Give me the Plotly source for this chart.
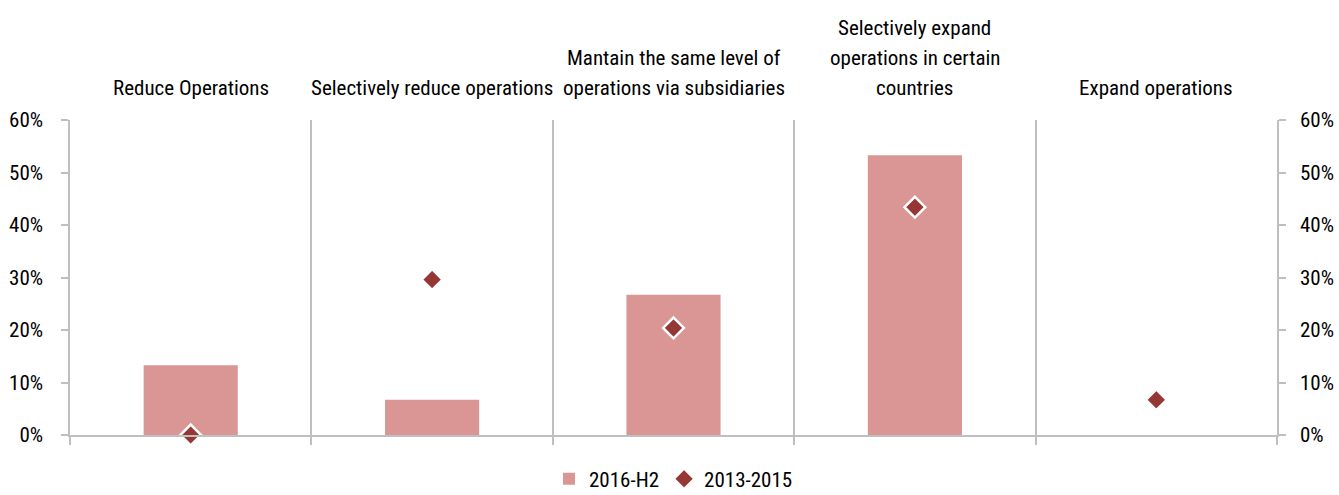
import plotly.graph_objects as go

categories = ["Reduce Operations", "Selectively reduce operations",
              "Mantain the same level of<br>operations via subsidiaries",
              "Selectively expand<br>operations in certain<br>countries",
              "Expand operations"]
cat_keys = ["c1", "c2", "c3", "c4", "c5"]
bars_2016_h2 = [0.133, 0.067, 0.267, 0.533, 0.0]
markers_2013_2015 = [0.0, 0.296, 0.204, 0.434, 0.067]
y_ticks = [0, 0.1, 0.2, 0.3, 0.4, 0.5, 0.6]

FONT = "Liberation Sans Narrow, Roboto Condensed, DejaVu Sans Condensed, Arial Narrow, sans-serif"
GRAY = "#BFBFBF"
TXT = "#000000"

fig = go.Figure()
fig.add_trace(go.Bar(x=cat_keys, y=bars_2016_h2, name="2016-H2",
                     marker=dict(color="#D99694", line=dict(width=0))))
fig.add_trace(go.Scatter(x=cat_keys, y=markers_2013_2015, name="2013-2015", mode="markers",
                         cliponaxis=False,
                         marker=dict(symbol="diamond", color="#953735", size=16,
                                     line=dict(color="white", width=2.5))))
fig.add_trace(go.Scatter(x=cat_keys, y=markers_2013_2015, yaxis="y2", mode="markers",
                         marker=dict(opacity=0), showlegend=False, hoverinfo="skip"))

for k, lab in zip(cat_keys, categories):
    lines = lab.split("<br>")
    for i, line in enumerate(reversed(lines)):
        fig.add_annotation(x=k, xref="x", y=1, yref="paper", yanchor="bottom",
                           text=line, showarrow=False, yshift=18 + i * 30,
                           font=dict(family=FONT, size=21, color=TXT))

fig.update_layout(
    width=1339, height=495,
    margin=dict(l=70, r=62, t=120, b=60, autoexpand=False),
    plot_bgcolor="white", paper_bgcolor="white",
    font=dict(family=FONT, size=21, color=TXT),
    bargap=0.61,
    showlegend=True,
    legend=dict(orientation="h", x=0.5, xanchor="center", y=-0.075, yanchor="top",
                font=dict(family=FONT, size=21, color=TXT), itemwidth=30),
    xaxis=dict(showticklabels=False, tickson="boundaries", ticks="outside", ticklen=8,
               tickcolor=GRAY, tickwidth=1.5, showgrid=True, gridcolor=GRAY, gridwidth=1.5,
               showline=True, linecolor=GRAY, linewidth=1.5, zeroline=False),
    yaxis=dict(range=[0, 0.6], tickvals=y_ticks, tickformat=".0%", ticks="outside", ticklen=7,
               tickcolor=GRAY, tickwidth=1.5, showline=True, linecolor=GRAY, linewidth=1.5,
               showgrid=False, zeroline=False, ticklabelstandoff=14, automargin=False),
    yaxis2=dict(range=[0, 0.6], tickvals=y_ticks, tickformat=".0%", overlaying="y", side="right",
                ticks="outside", ticklen=7, tickcolor=GRAY, tickwidth=1.5, showline=True,
                linecolor=GRAY, linewidth=1.5, showgrid=False, zeroline=False,
                ticklabelstandoff=10, automargin=False),
)

fig.write_html("out.html", config={"displayModeBar": False},
               post_script="document.body.style.margin='0px';")
